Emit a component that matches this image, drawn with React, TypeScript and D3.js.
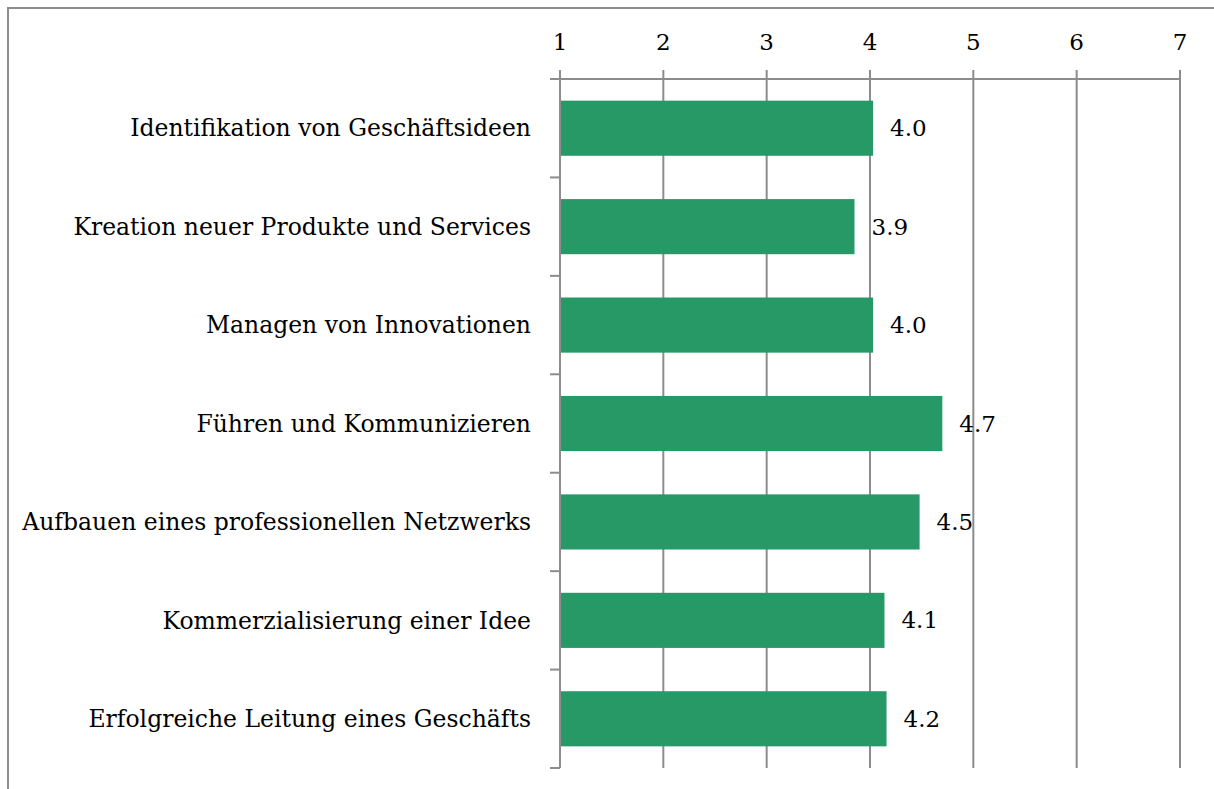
import React, { useEffect, useRef } from 'react';
import * as d3 from 'd3';

const CATEGORIES: string[] = [
  'Identifikation von Geschäftsideen',
  'Kreation neuer Produkte und Services',
  'Managen von Innovationen',
  'Führen und Kommunizieren',
  'Aufbauen eines professionellen Netzwerks',
  'Kommerzialisierung einer Idee',
  'Erfolgreiche Leitung eines Geschäfts',
];
const VALUES: number[] = [4.03, 3.85, 4.03, 4.7, 4.48, 4.14, 4.16];
const LABELS: string[] = ['4.0', '3.9', '4.0', '4.7', '4.5', '4.1', '4.2'];
const TICKS: number[] = [1, 2, 3, 4, 5, 6, 7];

const FONT = "'DejaVu Serif', 'Liberation Serif', serif";
const GRID = '#8c8c8c';

export default function App() {
  const ref = useRef<SVGSVGElement>(null);

  useEffect(() => {
    const svgEl = ref.current;
    if (!svgEl) return;
    const svg = d3.select(svgEl);
    svg.selectAll('*').remove();

    const W = 1214;
    const H = 789;
    const left = 560;
    const right = 1180;
    const top = 79;
    const bottom = 768;

    // outer frame (top and left only)
    svg.append('line').attr('x1', 8).attr('x2', W).attr('y1', 8).attr('y2', 8)
      .attr('stroke', GRID).attr('stroke-width', 2);
    svg.append('line').attr('x1', 8).attr('x2', 8).attr('y1', 7).attr('y2', H)
      .attr('stroke', GRID).attr('stroke-width', 2);

    const x = d3.scaleLinear().domain([1, 7]).range([left, right]);
    const y = d3.scaleBand().domain(CATEGORIES).range([top, bottom]).paddingInner(0.44).paddingOuter(0.22);
    const step = (bottom - top) / CATEGORIES.length;

    const g = svg.append('g');

    // vertical gridlines + top ticks
    g.selectAll('line.grid')
      .data(TICKS)
      .join('line')
      .attr('class', 'grid')
      .attr('x1', (d) => x(d))
      .attr('x2', (d) => x(d))
      .attr('y1', top - 9)
      .attr('y2', bottom)
      .attr('stroke', GRID)
      .attr('stroke-width', 2);

    // top axis line
    g.append('line').attr('x1', left - 10).attr('x2', right).attr('y1', top).attr('y2', top)
      .attr('stroke', GRID).attr('stroke-width', 2);

    // category ticks on left
    g.selectAll('line.ytick')
      .data(d3.range(CATEGORIES.length + 1))
      .join('line')
      .attr('class', 'ytick')
      .attr('x1', left - 10)
      .attr('x2', left)
      .attr('y1', (i) => top + i * step)
      .attr('y2', (i) => top + i * step)
      .attr('stroke', GRID)
      .attr('stroke-width', 2);

    // tick labels
    g.selectAll('text.xtick')
      .data(TICKS)
      .join('text')
      .attr('class', 'xtick')
      .attr('x', (d) => x(d))
      .attr('y', 50)
      .attr('text-anchor', 'middle')
      .attr('font-family', FONT)
      .attr('font-size', 23)
      .attr('fill', '#000')
      .text((d) => d);

    // bars
    g.selectAll('rect.bar')
      .data(CATEGORIES)
      .join('rect')
      .attr('class', 'bar')
      .attr('x', x(1))
      .attr('y', (d) => y(d) ?? 0)
      .attr('width', (d, i) => x(VALUES[i]) - x(1))
      .attr('height', y.bandwidth())
      .attr('fill', '#269966');

    // axis line on left
    g.append('line').attr('x1', left).attr('x2', left).attr('y1', top).attr('y2', bottom)
      .attr('stroke', GRID).attr('stroke-width', 2);

    // category labels
    g.selectAll('text.cat')
      .data(CATEGORIES)
      .join('text')
      .attr('class', 'cat')
      .attr('x', 531)
      .attr('y', (d) => (y(d) ?? 0) + y.bandwidth() / 2)
      .attr('dy', '0.35em')
      .attr('text-anchor', 'end')
      .attr('font-family', FONT)
      .attr('font-size', 23.5)
      .attr('fill', '#000')
      .text((d) => d);

    // value labels
    g.selectAll('text.val')
      .data(CATEGORIES)
      .join('text')
      .attr('class', 'val')
      .attr('x', (d, i) => x(VALUES[i]) + 17)
      .attr('y', (d) => (y(d) ?? 0) + y.bandwidth() / 2)
      .attr('dy', '0.35em')
      .attr('font-family', FONT)
      .attr('font-size', 23)
      .attr('fill', '#000')
      .text((d, i) => LABELS[i]);
  }, []);

  return (
    <svg
      ref={ref}
      width={1214}
      height={789}
      style={{ position: 'absolute', left: 0, top: 0, background: '#fff' }}
    />
  );
}
